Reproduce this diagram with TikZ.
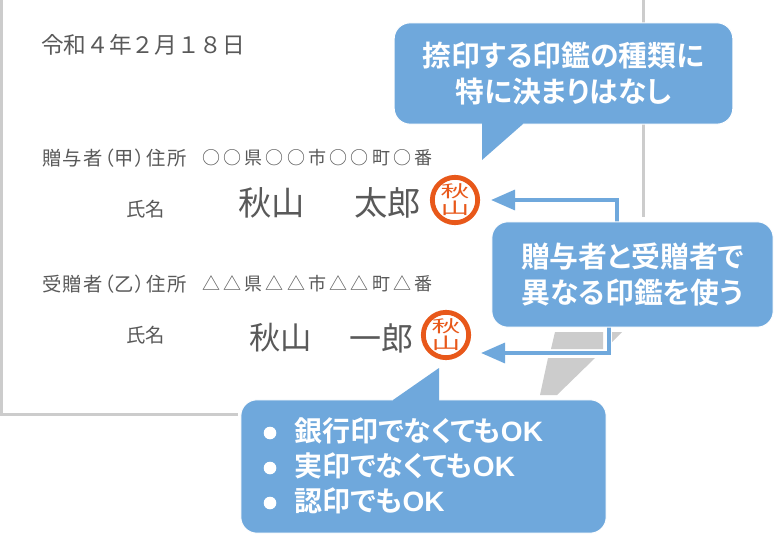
\documentclass[tikz,border=0pt]{standalone}
\usepackage{fontspec}
\usepackage{graphicx}
\setmainfont{Noto Sans CJK JP}
\newfontfamily\boldjp[RawFeature=+palt]{Noto Sans CJK JP Bold}
\newfontfamily\paltjp[RawFeature=+palt]{Noto Sans CJK JP}
\newfontfamily\boldlat{Liberation Sans Bold}
\usetikzlibrary{arrows.meta,positioning}
\definecolor{calloutblue}{HTML}{6FA8DC}
\definecolor{paperline}{HTML}{CCCCCC}
\definecolor{inkgrey}{HTML}{595959}
\definecolor{stamporange}{HTML}{E8581A}
\newcommand{\stampglyph}[1]{\raisebox{0pt}[10.5pt][1.5pt]{\scalebox{1.08}[0.62]{#1}}}
\newcommand{\okmark}{{\boldlat\fontsize{21pt}{27pt}\selectfont OK}}
\tikzset{
  x=0.75pt,y=-0.75pt,
  calloutbox/.style={fill=calloutblue,draw=white,line width=0.75pt,rounded corners=12pt,inner sep=0pt,align=center,text=white,font=\boldjp\fontsize{21.6pt}{27pt}\selectfont},
  bullettext/.style={text=white,inner sep=0pt,anchor=west,font=\boldjp\fontsize{21pt}{27pt}\selectfont},
  paperedge/.style={draw=paperline,line width=2.25pt},
  formtext/.style={text=inkgrey,inner sep=0pt,anchor=west,font=\paltjp\fontsize{14.5pt}{16pt}\selectfont},
  labeltext/.style={formtext,font=\paltjp\fontsize{14.5pt}{16pt}\selectfont\addfontfeatures{LetterSpace=6.5}},
  addrtext/.style={formtext,font=\fontsize{13.5pt}{16pt}\selectfont\addfontfeatures{LetterSpace=18}},
  signtext/.style={text=inkgrey,inner sep=0pt,anchor=west,font=\fontsize{25pt}{30pt}\selectfont},
  stampnode/.style={circle,draw=stamporange,line width=3.6pt,fill=white,minimum size=34pt,inner sep=0pt,text=stamporange,align=center,font=\fontsize{20pt}{12.5pt}\selectfont},
  pointerhalo/.style={draw=white,line width=4.4pt},
  pointerline/.style={draw=calloutblue,line width=2.6pt,-{Triangle[length=18pt,width=15pt]}},
}
\begin{document}
\begin{tikzpicture}
\useasboundingbox (0,0) rectangle (777,538);
\fill[white] (0,0) rectangle (777,538);
% paper
\draw[paperedge] (1.5,0) -- (1.5,414) -- (238,414);
\draw[paperedge] (643,0) -- (643,217);
% grey fold
\fill[paperline] (555,332) -- (603,332) -- (603,349) -- (551,349) -- cycle;
\fill[paperline] (548,358) -- (595,358) -- (557,395) -- (540,395) -- cycle;
\fill[paperline] (612,332) -- (622,332) -- (612,342) -- cycle;
% form text
\node[formtext,font=\fontsize{17pt}{20pt}\selectfont] (date) at (41,45) {令和４年２月１８日};
\node[labeltext] (giver) at (42,158) {贈与者（甲）住所};
\node[addrtext] (giveraddr) at (202,158) {○○県○○市○○町○番};
\node[formtext] (givername) at (126,209) {氏名};
\node[labeltext] (taker) at (42,284) {受贈者（乙）住所};
\node[addrtext] (takeraddr) at (202,284) {△△県△△市△△町△番};
\node[formtext] (takername) at (126,335) {氏名};
\node[signtext] (sign1a) at (238,203) {秋山};
\node[signtext] (sign1b) at (354,203) {太郎};
\node[signtext,font=\fontsize{23.5pt}{28pt}\selectfont] (sign2a) at (249,338) {秋山};
\node[signtext,font=\fontsize{24pt}{28pt}\selectfont] (sign2b) at (349,338) {一郎};
\node[stampnode] (stamp1) at (455,200) {\stampglyph{秋}\\\stampglyph{山}};
\node[stampnode] (stamp2) at (446,335) {\stampglyph{秋}\\\stampglyph{山}};
% pointers
\coordinate (p1) at ([xshift=8.25pt]stamp1.east);
\coordinate (p2) at ([xshift=7.5pt,yshift=-13.5pt]stamp2.east);
\coordinate (s1) at (617,224);
\coordinate (s2) at (609,325);
\draw[pointerhalo] (s1) |- (p1);
\draw[pointerhalo] (s2) |- (p2);
\draw[pointerline] (s1) |- (p1);
\draw[pointerline] (s2) |- (p2);
% boxes
\node[calloutbox,minimum width=254pt,minimum height=76pt] (box1) at (563.5,73.5) {捺印する印鑑の種類に\\特に決まりはなし};
\fill[calloutblue] (482,160) -- (523,124) -- (523,120) -- (482,120) -- cycle;
\node[calloutbox,minimum width=211pt,minimum height=79pt] (box2) at (632.5,274.5) {贈与者と受贈者で\\異なる印鑑を使う};
\node[calloutbox,minimum width=274pt,minimum height=100pt] (box3) at (423.5,466.5) {};
\fill[calloutblue] (439,368) -- (393,400) -- (393,404) -- (439,404) -- cycle;
\node[bullettext] (line1) at (294,431) {銀行印でなくても\okmark};
\node[bullettext] (line2) at (294,466) {実印でなくても\okmark};
\node[bullettext] (line3) at (294,501) {認印でも\okmark};
\fill[white] (270,433) circle (6.3);
\fill[white] (270,468) circle (6.3);
\fill[white] (270,503) circle (6.3);
\end{tikzpicture}
\end{document}
